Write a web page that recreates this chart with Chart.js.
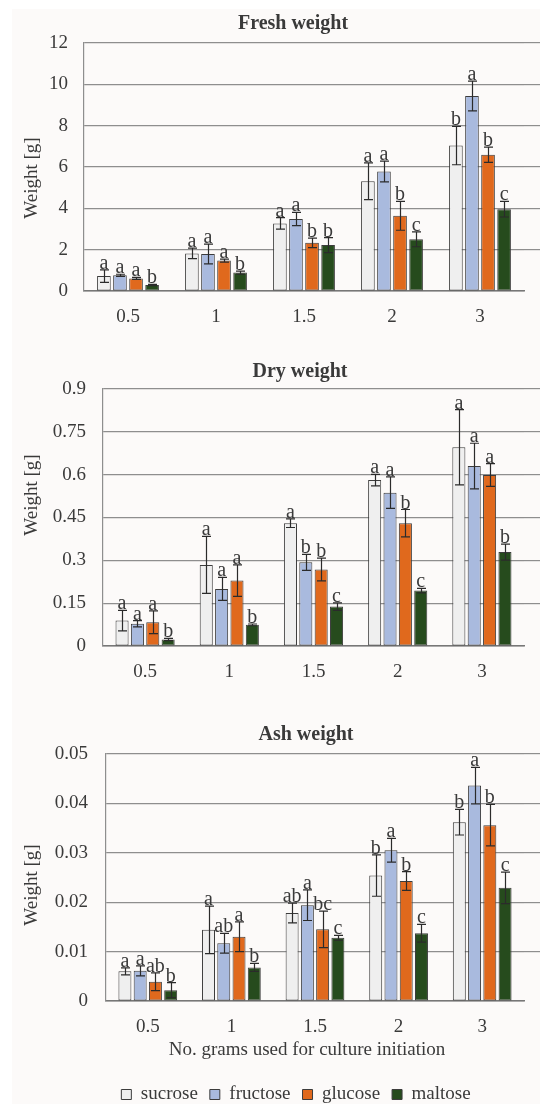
<!DOCTYPE html>
<html>
<head>
<meta charset="utf-8">
<script src="https://cdn.jsdelivr.net/npm/chart.js@4.4.1/dist/chart.umd.min.js"></script>
<style>
  body { margin:0; background:#fff; width:540px; height:1104px; overflow:hidden; position:relative; }
  #paper { position:absolute; left:12px; top:9px; right:0; bottom:0; background:#fcfaf9; }
  canvas { position:absolute; left:0; }
</style>
</head>
<body>
<div id="paper"></div>
<canvas id="freshChart" width="540" height="340" style="top:0"></canvas>
<canvas id="dryChart" width="540" height="360" style="top:340px"></canvas>
<canvas id="ashChart" width="540" height="414" style="top:700px"></canvas>
<script>
// grams used for culture initiation
const groups = ['0.5', '1', '1.5', '2', '3'];
const sugars = ['sucrose', 'fructose', 'glucose', 'maltose'];
const sugarColors = ['#efefef', '#a9bade', '#e0691d', '#264b1d'];

// rows follow sugars order
const freshMeans = [
  [0.72, 1.82, 3.27, 5.31, 7.04],
  [0.76, 1.79, 3.48, 5.78, 9.44],
  [0.61, 1.47, 2.33, 3.64, 6.59],
  [0.29, 0.89, 2.22, 2.50, 3.96]
];
const freshErrors = [
  [0.30, 0.25, 0.28, 0.89, 0.93],
  [0.05, 0.48, 0.32, 0.50, 0.72],
  [0.05, 0.07, 0.23, 0.70, 0.37],
  [0.03, 0.07, 0.36, 0.36, 0.38]
];
const freshLetters = [
  ['a', 'a', 'a', 'a', 'b'],
  ['a', 'a', 'a', 'a', 'a'],
  ['a', 'a', 'b', 'b', 'b'],
  ['b', 'b', 'b', 'c', 'c']
];
const freshTicks = [0, 2, 4, 6, 8, 10, 12];

const dryMeans = [
  [0.089, 0.284, 0.430, 0.581, 0.696],
  [0.078, 0.200, 0.293, 0.537, 0.630],
  [0.083, 0.229, 0.268, 0.430, 0.599],
  [0.023, 0.074, 0.138, 0.194, 0.329]
];
const dryErrors = [
  [0.036, 0.100, 0.015, 0.020, 0.132],
  [0.011, 0.040, 0.028, 0.055, 0.080],
  [0.040, 0.055, 0.040, 0.048, 0.040],
  [0.004, 0.003, 0.013, 0.008, 0.028]
];
const dryLetters = [
  ['a', 'a', 'a', 'a', 'a'],
  ['a', 'a', 'b', 'a', 'a'],
  ['a', 'a', 'b', 'b', 'a'],
  ['b', 'b', 'c', 'c', 'b']
];
const dryTicks = [0, 0.15, 0.3, 0.45, 0.6, 0.75, 0.9];

const ashMeans = [
  [0.0060, 0.0144, 0.0178, 0.0254, 0.0362],
  [0.0061, 0.0117, 0.0194, 0.0305, 0.0436],
  [0.0039, 0.0130, 0.0145, 0.0243, 0.0356],
  [0.0022, 0.0068, 0.0128, 0.0137, 0.0229]
];
const ashErrors = [
  [0.0007, 0.0048, 0.0020, 0.0042, 0.0026],
  [0.0010, 0.0020, 0.0031, 0.0024, 0.0037],
  [0.0018, 0.0030, 0.0037, 0.0019, 0.0042],
  [0.0015, 0.0008, 0.0005, 0.0018, 0.0032]
];
const ashLetters = [
  ['a', 'a', 'ab', 'b', 'b'],
  ['a', 'ab', 'a', 'a', 'a'],
  ['ab', 'a', 'bc', 'b', 'b'],
  ['b', 'b', 'c', 'c', 'c']
];
const ashTicks = [0, 0.01, 0.02, 0.03, 0.04, 0.05];

const serif = "'Liberation Serif', 'DejaVu Serif', serif";
const textColor = '#3a3a3a';
const gridColor = '#8e8e8e';
const yAxisWidth = 60;

function alignPx(p, w) {
  const half = Math.max(w / 2, 0.5);
  return Math.round(p - half) + half;
}

// excel grid runs on past the plot (the picture is cropped), so carry the lines to the edge
const gridExtend = {
  id: 'gridExtend',
  beforeDatasetsDraw(chart) {
    const {ctx, chartArea, scales: {y}} = chart;
    ctx.save();
    ctx.strokeStyle = gridColor;
    ctx.lineWidth = 1.2;
    y.ticks.forEach(t => {
      if (t.value === 0) return;
      const py = alignPx(y.getPixelForValue(t.value), 1.2);
      ctx.beginPath();
      ctx.moveTo(chartArea.right, py);
      ctx.lineTo(chart.width, py);
      ctx.stroke();
    });
    ctx.restore();
  }
};

const errorBars = {
  id: 'errorBars',
  afterDatasetsDraw(chart) {
    const {ctx, scales: {y}} = chart;
    ctx.save();
    ctx.strokeStyle = '#2b2b2b';
    ctx.lineWidth = 1.2;
    ctx.fillStyle = textColor;
    ctx.font = '20px ' + serif;
    ctx.textAlign = 'center';
    ctx.textBaseline = 'alphabetic';
    chart.data.datasets.forEach((ds, i) => {
      const meta = chart.getDatasetMeta(i);
      meta.data.forEach((bar, j) => {
        const v = ds.data[j], e = ds.errors[j];
        const top = y.getPixelForValue(v + e);
        const bot = y.getPixelForValue(Math.max(v - e, 0));
        const x = Math.round(bar.x) + 0.5;
        ctx.beginPath();
        ctx.moveTo(x, top); ctx.lineTo(x, bot);
        ctx.moveTo(x - 4.5, top); ctx.lineTo(x + 4.5, top);
        ctx.moveTo(x - 4.5, bot); ctx.lineTo(x + 4.5, bot);
        ctx.stroke();
        ctx.fillText(ds.letters[j], bar.x, top - 1);
      });
    });
    ctx.restore();
  }
};

// chart title and axis titles, placed like the excel original
const panelText = {
  id: 'panelText',
  afterLayout(chart, args, opts) {
    // legend sits a bit right of the padded box in the original
    if (chart.legend && opts.legendShift) {
      chart.legend.left += opts.legendShift;
      chart.legend.right += opts.legendShift;
    }
  },
  afterDraw(chart, args, opts) {
    const ctx = chart.ctx;
    ctx.save();
    ctx.fillStyle = opts.color;
    ctx.textAlign = 'center';
    ctx.textBaseline = 'middle';
    ctx.font = 'bold 20px ' + serif;
    ctx.fillText(opts.title, opts.titleAt[0], opts.titleAt[1]);
    ctx.font = '19px ' + serif;
    if (opts.xTitle) ctx.fillText(opts.xTitle, opts.xTitleAt[0], opts.xTitleAt[1]);
    ctx.translate(opts.yTitleAt[0], opts.yTitleAt[1]);
    ctx.rotate(-Math.PI / 2);
    ctx.fillText(opts.yTitle, 0, 0);
    ctx.restore();
  }
};

function makeDatasets(means, errors, letters) {
  return sugars.map((s, i) => ({
    label: s,
    data: means[i],
    errors: errors[i],
    letters: letters[i],
    backgroundColor: sugarColors[i],
    borderColor: '#3c3c3c',
    borderWidth: 1,
    borderSkipped: false,
    categoryPercentage: 0.73,
    barPercentage: 0.85
  }));
}

function makeConfig(p) {
  return {
    type: 'bar',
    data: { labels: groups, datasets: makeDatasets(p.means, p.errors, p.letters) },
    options: {
      responsive: false,
      animation: false,
      layout: { padding: { left: p.plotLeft - yAxisWidth, right: 16, top: p.plotTop, bottom: 0 } },
      plugins: {
        legend: p.legend ? {
          display: true,
          position: 'bottom',
          labels: { boxWidth: 10, boxHeight: 10, padding: 12, color: textColor, font: { family: serif, size: 19 } }
        } : { display: false },
        tooltip: { enabled: false },
        panelText: {
          color: textColor,
          title: p.title, titleAt: p.titleAt,
          yTitle: 'Weight [g]', yTitleAt: p.yTitleAt,
          xTitle: p.xTitle, xTitleAt: p.xTitleAt,
          legendShift: p.legendShift
        }
      },
      scales: {
        x: {
          grid: { display: false },
          border: { display: true, color: '#777', width: 1.4 },
          ticks: { color: textColor, padding: 7, font: { family: serif, size: 19 } },
          afterFit: s => { s.height = p.xHeight; }
        },
        y: {
          min: 0,
          max: p.ticks[p.ticks.length - 1],
          grid: { color: gridColor, lineWidth: 1.2, drawTicks: false },
          border: { display: true, color: gridColor, width: 1.2 },
          ticks: { color: textColor, padding: p.tickPad, font: { family: serif, size: 19 }, callback: v => String(v) },
          afterBuildTicks: s => { s.ticks = p.ticks.map(v => ({ value: v })); },
          afterFit: s => { s.width = yAxisWidth; }
        }
      }
    },
    plugins: [gridExtend, errorBars, panelText]
  };
}

const freshChart = new Chart(document.getElementById('freshChart'), makeConfig({
  means: freshMeans, errors: freshErrors, letters: freshLetters, ticks: freshTicks,
  title: 'Fresh weight', titleAt: [293, 24], yTitleAt: [32, 178],
  plotLeft: 84, plotTop: 43, xHeight: 49, tickPad: 16
}));

const dryChart = new Chart(document.getElementById('dryChart'), makeConfig({
  means: dryMeans, errors: dryErrors, letters: dryLetters, ticks: dryTicks,
  title: 'Dry weight', titleAt: [300, 32], yTitleAt: [32, 155],
  plotLeft: 103, plotTop: 49, xHeight: 54, tickPad: 17
}));

const ashChart = new Chart(document.getElementById('ashChart'), makeConfig({
  means: ashMeans, errors: ashErrors, letters: ashLetters, ticks: ashTicks,
  title: 'Ash weight', titleAt: [306, 35], yTitleAt: [32, 185],
  xTitle: 'No. grams used for culture initiation', xTitleAt: [307, 350],
  plotLeft: 106, plotTop: 54, xHeight: 72, tickPad: 18, legend: true, legendShift: 11
}));
</script>
</body>
</html>
